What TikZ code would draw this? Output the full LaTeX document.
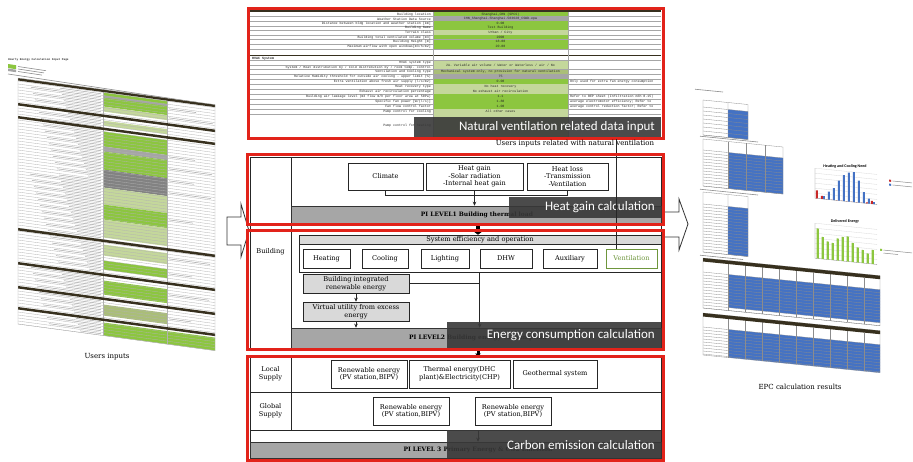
\documentclass[tikz,border=0pt]{standalone}
\usepackage{fontspec}
\newfontfamily\carlito{Carlito}
\newfontfamily\dvs{DejaVu Serif}
\newfontfamily\lmono{Liberation Mono}
\usetikzlibrary{arrows.meta}
\definecolor{redc}{RGB}{226,35,26}
\definecolor{ovc}{RGB}{56,56,56}
\definecolor{graybar}{RGB}{166,166,166}
\definecolor{lgray}{RGB}{217,217,217}
\definecolor{bgreen}{RGB}{140,198,63}
\definecolor{lgreen}{RGB}{196,215,155}
\definecolor{olivec}{RGB}{170,190,120}
\definecolor{sgray}{RGB}{165,165,165}
\definecolor{dgray}{RGB}{130,130,130}
\definecolor{darkbar}{RGB}{55,48,30}
\definecolor{bluec}{RGB}{68,114,196}
\definecolor{redbar}{RGB}{200,40,40}
\definecolor{ventg}{RGB}{110,150,60}

\newcommand{\sheetrow}[6]{%
  \fill[#5] (433,#1) rectangle (568,#2);
  \draw[sheetline] (250,#2) -- (661,#2);
  \path (431,{(#1+#2)/2}) node[sheettxt,anchor=east] {#3};
  \path (500.5,{(#1+#2)/2}) node[sheettxt] {#4};
  \path (570,{(#1+#2)/2}) node[sheettxt,anchor=west] {#6};
}

\begin{document}
\begin{tikzpicture}[x=1pt,y=-1pt,
  box/.style={draw=black!85, fill=white, line width=0.6pt, inner sep=0pt, align=center, font=\dvs\fontsize{6.6}{7.6}\selectfont},
  gbox/.style={box, fill=lgray},
  barnode/.style={fill=graybar, draw=black!80, line width=0.5pt, inner sep=0pt},
  bartxt/.style={inner sep=0pt, font=\dvs\bfseries\fontsize{6}{7}\selectfont},
  ovfill/.style={fill=ovc, fill opacity=0.9},
  ovtext/.style={text=white, inner sep=0pt, font=\carlito\fontsize{13}{15}\selectfont},
  redbox/.style={draw=redc, line width=3pt},
  frame/.style={draw=black!85, line width=0.7pt},
  conn/.style={draw=black!85, line width=0.6pt},
  arr/.style={conn, -{Stealth[length=4pt,width=3.5pt]}},
  fat/.style={draw=black, line width=4pt, -{Triangle[length=3pt,width=8pt]}},
  sidelabel/.style={font=\dvs\fontsize{6.6}{7.6}\selectfont, align=center, inner sep=0pt},
  captxt/.style={font=\dvs\fontsize{7}{8}\selectfont, inner sep=0pt},
  sheettxt/.style={font=\lmono\fontsize{3.3}{3.5}\selectfont, inner sep=0pt, text=black!85},
  sheetline/.style={draw=black!35, line width=0.35pt},
  lsheetline/.style={draw=black!30, line width=0.3pt},
  faketxt/.style={draw=black!45, line width=0.6pt},
  tline/.style={draw=black!45, line width=0.3pt},
  blockarrow/.style={draw=black!80, fill=white, line width=0.8pt, line join=miter},
]
\fill[white] (0,0) rectangle (913,461);
\useasboundingbox (0,0) rectangle (913,461);

% ================= LEFT: users inputs sheet =================
\begin{scope}[cm={1,-0.15,0,1,(8,60)}]
  \node[inner sep=0pt, anchor=west, font=\lmono\bfseries\fontsize{2.8}{3}\selectfont, text=black!80] (ltitle) at (0,0) {Hourly Energy Calculation Input Page};
  \fill[bgreen] (0,4) rectangle (8,8);
  \fill[sgray] (0,8.5) rectangle (8,11);
  \draw[faketxt] (10,5) -- (38,5);
  \draw[faketxt] (10,7.5) -- (36,7.5);
  \draw[faketxt] (10,10) -- (34,10);
  \draw[faketxt] (0,14) -- (190,14);
\end{scope}
\begin{scope}[cm={1,-0.135,0,1,(18,78)}]
  \fill[white] (0,0) rectangle (197,246);
  \fill[bgreen] (85,3) rectangle (149,17);
  \fill[sgray] (85,6) rectangle (149,8);
  \fill[lgreen] (85,17) rectangle (149,22);
  \fill[lgreen] (85,31) rectangle (149,36);
  \fill[bgreen] (85,42) rectangle (149,57);
  \fill[sgray] (85,57) rectangle (149,62);
  \fill[bgreen] (85,62) rectangle (149,80);
  \fill[dgray] (85,80) rectangle (149,98);
  \fill[lgreen] (85,98) rectangle (149,115);
  \fill[bgreen] (85,115) rectangle (149,130);
  \fill[lgreen] (85,130) rectangle (149,148);
  \fill[lgreen] (85,155) rectangle (149,166);
  \fill[bgreen] (85,171) rectangle (149,180);
  \fill[bgreen] (85,191) rectangle (149,205);
  \fill[olivec] (85,215) rectangle (149,226);
  \fill[bgreen] (85,233) rectangle (197,246);
  \foreach \v in {3,6,...,246} \draw[lsheetline] (0,\v) -- (197,\v);
  \foreach \v [count=\i] in {4.5,7.5,...,244.5} {
    \pgfmathsetmacro\L{12+mod(\i*29,60)}
    \draw[faketxt, line width=0.5pt, draw=black!35] ({83-\L},\v) -- (83,\v);
  }
  \foreach \v [count=\i] in {10.5,19.5,58.5,70.5,82.5,94.5,121.5,160.5,175.5,196.5,220.5} {
    \pgfmathsetmacro\L{10+mod(\i*17,35)}
    \draw[faketxt, line width=0.5pt, draw=black!35] (151,\v) -- ({151+\L},\v);
  }
  \draw[lsheetline] (85,0) -- (85,246) (149,0) -- (149,246);
  \foreach \v in {0,25,38,150,184,208,229} \fill[darkbar] (0,\v) rectangle (197,{\v+2.5});
  \draw[lsheetline] (0,0) rectangle (197,246);
\end{scope}
\node[captxt] (usersinputs) at (107,357) {Users inputs};

% ================= TOP: natural ventilation input sheet =================
\begin{scope}
  \clip (250,9) rectangle (661,137);
  \fill[white] (250,9) rectangle (661,137);
  \fill[darkbar] (250,9) rectangle (661,12);
  \sheetrow{12}{16.6}{Building location}{Shanghai,CHN (SPCS)}{bgreen}{}
  \sheetrow{16.6}{21.2}{Weather Station Data Source}{CHN\_Shanghai.Shanghai.583620\_CSWD.epw}{sgray}{}
  \sheetrow{21.2}{25.8}{Distance between bldg location and weather station [km]}{0.00}{bgreen}{}
  \sheetrow{25.8}{30.4}{Building Name}{Test Building}{bgreen}{}
  \sheetrow{30.4}{35}{Terrain class}{Urban / City}{lgreen}{}
  \sheetrow{35}{39.6}{Building total ventilated volume [m3]}{2000}{bgreen}{}
  \sheetrow{39.6}{44.2}{Building Height [m]}{18.00}{bgreen}{}
  \sheetrow{44.2}{48.8}{Maximum airflow with open windows[m3/h/m2]}{20.00}{bgreen}{}
  \draw[draw=darkbar, line width=1.2pt] (250,55.5) -- (661,55.5);
  \node[sheettxt, anchor=west, font=\lmono\bfseries\fontsize{3.3}{3.5}\selectfont] (hvac) at (252,58.5) {HVAC System};
  \draw[sheetline] (250,60.5) -- (661,60.5);
  \fill[lgreen] (433,60.5) rectangle (568,69.5);
  \node[sheettxt] (hvactype) at (500.5,65) {2A. Variable air volume / Water or Waterless / air / No};
  \node[sheettxt, anchor=east] (hvaclab) at (431,62.8) {HVAC system type};
  \node[sheettxt, anchor=east] (hvaclab2) at (431,67.2) {System / Heat distribution by / Cold distribution by / room temp. control};
  \draw[sheetline] (250,65) -- (433,65) (250,69.5) -- (661,69.5);
  \sheetrow{69.5}{74}{Ventilation and Cooling type}{Mechanical system only, no provision for natural ventilation}{olivec}{}
  \sheetrow{74}{79}{Relative Humidity threshold for outside air cooling - upper limit (\%)}{75}{sgray}{}
  \sheetrow{79}{84}{Extra ventilation above fresh air supply (l/s/m2)}{0.00}{bgreen}{Only used for extra fan energy consumption}
  \sheetrow{84}{89}{Heat recovery type}{No heat recovery}{lgreen}{}
  \sheetrow{89}{94}{Exhaust air recirculation percentage}{No exhaust air recirculation}{lgreen}{}
  \sheetrow{94}{99}{Building air leakage level (m3 flow m/h per floor area at 50Pa)}{1.1}{bgreen}{Refer to BEP sheet (Infiltration m3h 0.15)}
  \sheetrow{99}{104}{Specific fan power [W/(l/s)]}{1.80}{bgreen}{average electromotor efficiency; Refer to}
  \sheetrow{104}{109}{Fan flow control factor}{1.00}{bgreen}{average control reduction factor; Refer to}
  \sheetrow{109}{114}{Pump control for cooling}{All other cases}{lgreen}{}
  \sheetrow{114}{137}{Pump control for heating}{}{lgreen}{}
  \draw[sheetline] (433,12) -- (433,137) (568,12) -- (568,137);
\end{scope}
\fill[ovfill] (414,117) rectangle (661,137);
\node[ovtext, anchor=east] (ovnat) at (655,127) {Natural ventilation related data input};
\draw[redbox] (248,8) rectangle (663,138);
\node[captxt] (natcap) at (575,144) {Users inputs related with natural ventilation};

% ================= MIDDLE: building section =================
\draw[frame] (250,157) rectangle (661,348);
\draw[frame] (291,157) -- (291,348);
\node[sidelabel] (building) at (270.5,252) {Building};

\node[box, minimum width=75pt, minimum height=27pt] (climate) at (385.5,176.5) {Climate};
\node[box, minimum width=97pt, minimum height=27pt] (heatgain) at (474.5,176.5) {Heat gain\\-Solar radiation\\-Internal heat gain};
\node[box, minimum width=81pt, minimum height=27pt] (heatloss) at (567.5,176.5) {Heat loss\\-Transmission\\-Ventilation};
\node[barnode, minimum width=370pt, minimum height=17pt] (bar1) at (476,214.5) {};
\node[bartxt] (bar1t) at (477,214.5) {PI LEVEL1 Building thermal load};
\draw[conn] (climate.south) -- ++(0,5) -| (heatloss.south);
\draw[arr] (heatgain.south) -- (bar1.north -| heatgain.south);

\node[box, minimum width=362pt, minimum height=37pt] (sysbox) at (480,253.5) {};
\node[box, fill=lgray, minimum width=362pt, minimum height=9pt] (sysbar) at (480,239.5) {System efficiency and operation};
\node[box, minimum width=47pt, minimum height=19pt] (heating) at (326.5,258.5) {Heating};
\node[box, minimum width=46pt, minimum height=19pt] (cooling) at (385,258.5) {Cooling};
\node[box, minimum width=48pt, minimum height=19pt] (lighting) at (445,258.5) {Lighting};
\node[box, minimum width=52pt, minimum height=19pt] (dhw) at (506,258.5) {DHW};
\node[box, minimum width=54pt, minimum height=19pt] (aux) at (570,258.5) {Auxiliary};
\node[box, draw=ventg, text=ventg, minimum width=51pt, minimum height=19pt] (vent) at (631.5,258.5) {Ventilation};
\node[gbox, minimum width=106pt, minimum height=19pt] (bir) at (356,283.5) {Building integrated\\renewable energy};
\node[gbox, minimum width=106pt, minimum height=19pt] (vu) at (356,311.5) {Virtual utility from excess\\energy};
\node[barnode, minimum width=370pt, minimum height=20pt] (bar2) at (476,338) {};
\node[bartxt] (bar2t) at (478,338) {PI LEVEL2 Building energy consumption};
\coordinate (ax) at (478,0);
\draw[fat] (bar1.south -| ax) -- (sysbox.north -| ax);
\draw[arr] (bir.south) -- (vu.north);
\draw[arr] (vu.south) -- (bar2.north -| vu.south);
\draw[conn] (bir.east) -- (bir.east -| dhw.west);
\draw[arr] (sysbox.south -| dhw.west) -- (bar2.north -| dhw.west);

% ================= BOTTOM: supply section =================
\draw[frame] (250,356) rectangle (661,458);
\draw[frame] (291,356) -- (291,430);
\draw[frame] (250,392) -- (661,392);
\draw[frame] (250,430) -- (661,430);
\node[sidelabel] (local) at (270.5,374) {Local\\Supply};
\node[sidelabel] (global) at (270.5,411) {Global\\Supply};
\node[box, minimum width=76pt, minimum height=28pt] (loc1) at (369,374) {Renewable energy\\(PV station,BIPV)};
\node[box, minimum width=101pt, minimum height=28pt] (loc2) at (459.5,374) {Thermal energy(DHC\\plant)\&Electricity(CHP)};
\node[box, minimum width=84pt, minimum height=28pt] (loc3) at (555,374) {Geothermal system};
\node[box, minimum width=76pt, minimum height=28pt] (glob1) at (411,411) {Renewable energy\\(PV station,BIPV)};
\node[box, minimum width=76pt, minimum height=28pt] (glob2) at (513,411) {Renewable energy\\(PV station,BIPV)};
\node[barnode, minimum width=411pt, minimum height=16pt] (bar3) at (455.5,450) {};
\node[bartxt] (bar3t) at (478,450) {PI LEVEL 3 Primary Energy \& CO2 Emission};
\coordinate (cftop) at (478,356);
\coordinate (gline) at (478,430);
\draw[draw=black, line width=3pt, -{Triangle[length=2.5pt,width=6pt]}] (bar2.south -| ax) -- (cftop);
\draw[arr] (gline) -- (bar3.north -| gline);

% ================= overlays =================
\fill[ovfill] (509,197) rectangle (661,218);
\node[ovtext, anchor=east] (ovheat) at (655,207.5) {Heat gain calculation};
\fill[ovfill] (447,322) rectangle (661,348);
\node[ovtext, anchor=east] (ovenergy) at (655,335) {Energy consumption calculation};
\fill[ovfill] (447,430) rectangle (661,458);
\node[ovtext, anchor=east] (ovcarbon) at (655,445) {Carbon emission calculation};

\coordinate (vtop) at (616,139);
\draw[conn] (vtop) -- (vtop |- vent.north);

% ================= block arrows =================
\draw[blockarrow] (227,217) -- (241,217) -- (241,204) -- (249,231) -- (241,257) -- (241,245) -- (227,245) -- cycle;
\fill[white] (663,212.5) rectangle (679,236.5);
\draw[blockarrow] (663,212) -- (679,212) -- (679,199) -- (688,224) -- (679,250) -- (679,237) -- (663,237);

% ================= red boxes =================
\draw[redbox] (247,154) rectangle (663,224);
\draw[redbox] (247,230) rectangle (663,349);
\draw[redbox] (247,356) rectangle (663,460);

% ================= RIGHT: EPC results =================
\begin{scope}[cm={1,-0.1,0,1,(703,100)}]
  \draw[faketxt] (-8,-10) -- (20,-10);
  % T1
  \fill[white] (0,0) rectangle (45,35);
  \fill[bluec] (25,7) rectangle (45,35);
  \foreach \v in {7,11,...,35} \draw[tline] (0,\v) -- (45,\v);
  \draw[tline] (0,0) rectangle (45,35) (25,0) -- (25,35);
  % T2
  \draw[faketxt] (-3,36.5) -- (55,36.5);
  \fill[bluec] (25,50) rectangle (80,86);
  \foreach \v in {50,53,...,86} \draw[tline] (0,\v) -- (80,\v);
  \draw[tline] (0,39) rectangle (80,86);
  \foreach \u in {25,43,62} \draw[tline] (\u,39) -- (\u,86);
  % T3
  \draw[faketxt] (-3,89.5) -- (55,89.5);
  \fill[bluec] (25,104) rectangle (45,152);
  \foreach \v in {104,107,...,152} \draw[tline] (0,\v) -- (45,\v);
  \draw[tline] (0,92) rectangle (45,152) (25,92) -- (25,152);
  % T4
  \draw[faketxt] (-3,155.5) -- (40,155.5);
  \fill[bluec] (25,172) rectangle (177,205);
  \foreach \v in {172,175,...,208} \draw[tline] (0,\v) -- (177,\v);
  \draw[tline] (0,158) rectangle (177,208);
  \foreach \u in {25,42,59,76,93,110,127,144,161} \draw[tline] (\u,161.5) -- (\u,208);
  \fill[darkbar] (0,158) rectangle (177,161.5);
  % T5
  \fill[bluec] (25,227) rectangle (177,255);
  \foreach \v in {227,230,...,255} \draw[tline] (0,\v) -- (177,\v);
  \draw[tline] (0,213) rectangle (177,255);
  \foreach \u in {25,42,59,76,93,110,127,144,161} \draw[tline] (\u,216.5) -- (\u,255);
  \fill[darkbar] (0,213) rectangle (177,216.5);
  % Chart 1
  \node[inner sep=0pt, font=\carlito\bfseries\fontsize{4}{4.5}\selectfont] (ch1title) at (142,52) {Heating and Cooling Need};
  \foreach \v in {57,62,...,82} \draw[draw=black!15, line width=0.3pt] (112,\v) -- (174,\v);
  \draw[draw=black!50, line width=0.3pt] (112,57) -- (112,87) -- (174,87);
  \foreach \h [count=\i] in {0,3,8,12,20,26,29,30,22,11,5,2}
    \fill[bluec] ({112+5*\i-2.2},87) rectangle ({112+5*\i-0.2},{87-\h});
  \foreach \h [count=\i] in {8,3,0,0,0,0,0,0,0,0,1,3}
    \fill[redbar] ({112+5*\i-4.2},87) rectangle ({112+5*\i-2.2},{87-\h});
  \fill[redbar] (186,61) rectangle (188,63);
  \draw[faketxt, line width=0.5pt] (189.5,62) -- (209,62);
  \fill[bluec] (186,65) rectangle (188,67);
  \draw[faketxt, line width=0.5pt] (189.5,66) -- (209,66);
  % Chart 2
  \node[inner sep=0pt, font=\carlito\bfseries\fontsize{4}{4.5}\selectfont] (ch2title) at (142,107) {Delivered Energy};
  \foreach \v in {112,117,...,142} \draw[draw=black!15, line width=0.3pt] (112,\v) -- (174,\v);
  \draw[draw=black!50, line width=0.3pt] (112,112) -- (112,147) -- (174,147);
  \foreach \h [count=\i] in {30,22,18,17,22,24,25,19,15,13,10,14}
    \fill[bgreen] ({112+5*\i-3.3},147) rectangle ({112+5*\i-1.1},{147-\h});
  \fill[bgreen] (177,131) rectangle (179,133);
  \draw[faketxt, line width=0.5pt] (180.5,132) -- (209,132);
  \draw[faketxt, line width=0.5pt] (180.5,135) -- (195,135);
\end{scope}
\node[captxt] (epccap) at (800,387) {EPC calculation results};
\end{tikzpicture}
\end{document}
